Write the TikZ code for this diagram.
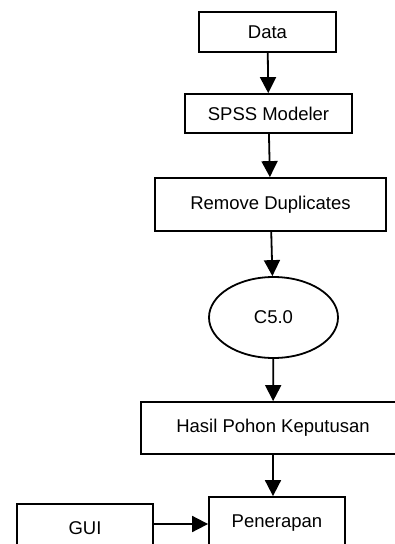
\documentclass[tikz,border=0pt]{standalone}
\usepackage{fontspec}
\setmainfont{Liberation Sans}
\usetikzlibrary{shapes.geometric,arrows.meta}

\begin{document}
\begin{tikzpicture}[x=1pt, y=-1pt,
    box/.style={draw, line width=1.8pt, inner sep=0pt, font=\fontsize{18.5}{22}\selectfont},
    oval/.style={draw, ellipse, line width=1.8pt, inner sep=0pt, font=\fontsize{18.5}{22}\selectfont},
    arr/.style={-{Triangle[length=16pt,width=16pt]}, line width=1.8pt}]
    \useasboundingbox (0,0) rectangle (395,544);

    % Flow boxes
    \node[box, minimum width=137pt, minimum height=40pt] (data) at (267.5,32) {Data};
    \node[box, minimum width=167pt, minimum height=39pt] (spss) at (268.5,113.5) {SPSS Modeler};
    \node[box, minimum width=231pt, minimum height=53pt] (remove) at (270.5,204.5) {Remove Duplicates};
    \node[oval, minimum width=129pt, minimum height=81pt] (c50) at (273.5,317.5) {C5.0};
    \node[box, minimum width=264pt, minimum height=52pt] (hasil) at (273,428) {Hasil Pohon Keputusan};
    \node[box, minimum width=136pt, minimum height=52pt] (terap) at (277,523) {Penerapan};
    \node[box, minimum width=136pt, minimum height=48pt] (gui) at (85,528) {GUI};

    % Arrows
    \draw[arr] (data) -- (spss);
    \draw[arr] (spss) -- (remove);
    \draw[arr] (remove) -- (c50);
    \draw[arr] (c50) -- (hasil);
    \draw[arr] (hasil) -- (hasil |- terap.north);
    \draw[arr] (gui.east |- 0,524) -- (terap.west |- 0,524);
\end{tikzpicture}
\end{document}
